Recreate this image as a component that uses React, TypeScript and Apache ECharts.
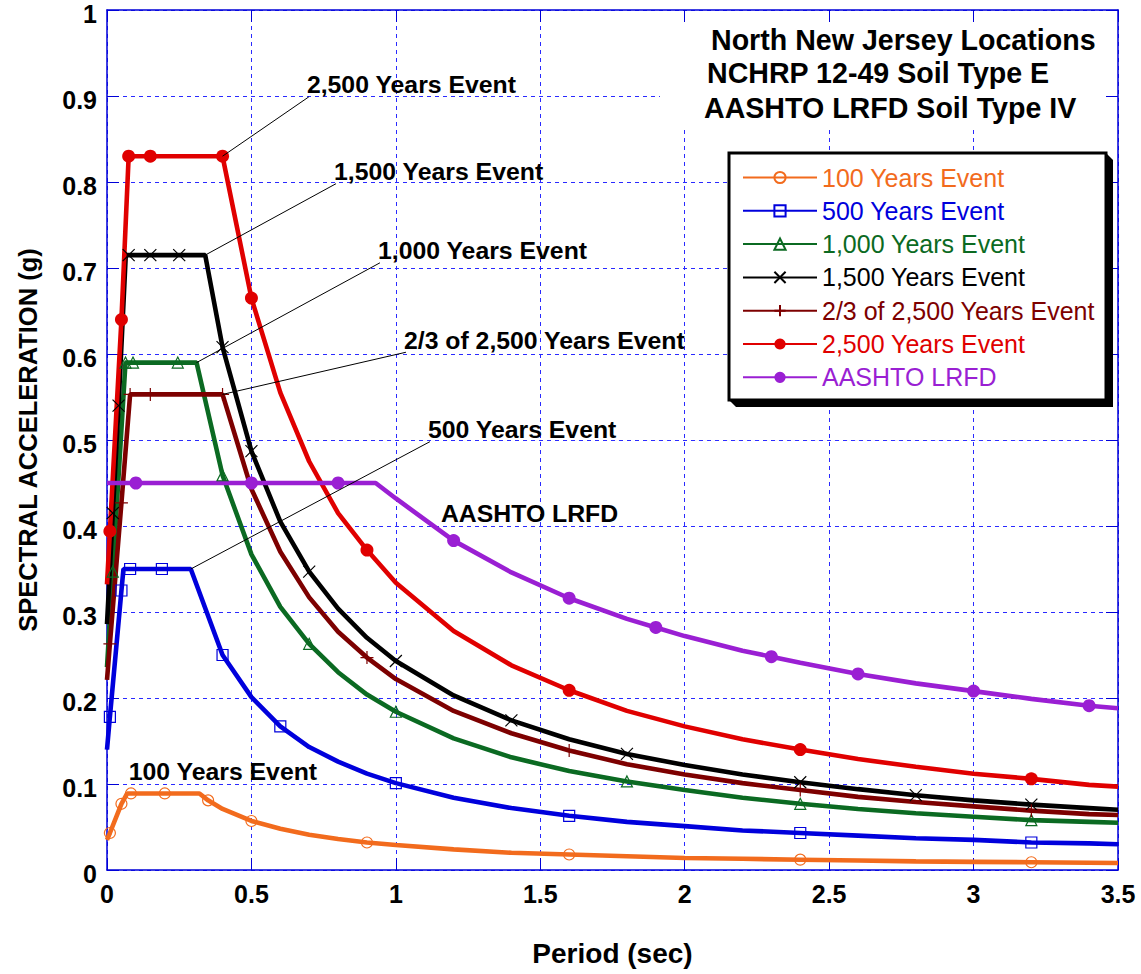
import React, { useEffect, useRef } from "react";
import * as echarts from "echarts";

const FONT = "'Liberation Sans', Arial, Helvetica, sans-serif";

// Periods (sec) and spectral accelerations (g) for each design spectrum
const periods100 = [0, 0.01, 0.05, 0.07, 0.083, 0.2, 0.32, 0.35, 0.4, 0.5, 0.6, 0.7, 0.8, 0.9, 1.0, 1.2, 1.4, 1.6, 1.8, 2.0, 2.2, 2.4, 2.6, 2.8, 3.0, 3.2, 3.4, 3.5];
const accel100 = [0.035, 0.043, 0.077, 0.089, 0.089, 0.089, 0.089, 0.081, 0.071, 0.057, 0.048, 0.041, 0.036, 0.032, 0.029, 0.024, 0.02, 0.018, 0.016, 0.014, 0.013, 0.012, 0.011, 0.01, 0.0095, 0.009, 0.0084, 0.0081];
const markers100 = [0.01, 0.05, 0.083, 0.2, 0.35, 0.5, 0.9, 1.6, 2.4, 3.2];

const periods500 = [0, 0.01, 0.05, 0.057, 0.08, 0.19, 0.29, 0.4, 0.5, 0.6, 0.7, 0.8, 0.9, 1.0, 1.2, 1.4, 1.6, 1.8, 2.0, 2.2, 2.4, 2.6, 2.8, 3.0, 3.2, 3.4, 3.5];
const accel500 = [0.14, 0.178, 0.325, 0.35, 0.35, 0.35, 0.35, 0.25, 0.201, 0.167, 0.143, 0.126, 0.112, 0.101, 0.084, 0.072, 0.063, 0.056, 0.051, 0.046, 0.043, 0.04, 0.037, 0.035, 0.032, 0.031, 0.03];
const markers500 = [0.01, 0.05, 0.08, 0.19, 0.4, 0.6, 1.0, 1.6, 2.4, 3.2];

const periods1000 = [0, 0.02, 0.064, 0.09, 0.245, 0.31, 0.4, 0.5, 0.6, 0.7, 0.8, 0.9, 1.0, 1.2, 1.4, 1.6, 1.8, 2.0, 2.2, 2.4, 2.6, 2.8, 3.0, 3.2, 3.4, 3.5];
const accel1000 = [0.236, 0.347, 0.59, 0.59, 0.59, 0.59, 0.459, 0.367, 0.306, 0.263, 0.23, 0.204, 0.184, 0.153, 0.131, 0.115, 0.103, 0.093, 0.084, 0.077, 0.071, 0.066, 0.062, 0.058, 0.056, 0.055];
const markers1000 = [0.02, 0.064, 0.09, 0.245, 0.4, 0.7, 1.0, 1.8, 2.4, 3.2];

const periods1500 = [0, 0.02, 0.04, 0.065, 0.075, 0.15, 0.25, 0.34, 0.4, 0.5, 0.6, 0.7, 0.8, 0.9, 1.0, 1.2, 1.4, 1.6, 1.8, 2.0, 2.2, 2.4, 2.6, 2.8, 3.0, 3.2, 3.4, 3.5];
const accel1500 = [0.286, 0.415, 0.54, 0.715, 0.715, 0.715, 0.715, 0.715, 0.608, 0.487, 0.405, 0.347, 0.304, 0.27, 0.243, 0.203, 0.174, 0.152, 0.135, 0.122, 0.111, 0.102, 0.094, 0.087, 0.081, 0.076, 0.072, 0.07];
const markers1500 = [0.02, 0.04, 0.075, 0.15, 0.25, 0.4, 0.5, 0.7, 1.0, 1.4, 1.8, 2.4, 2.8, 3.2];

const periodsTwoThirds = [0, 0.01, 0.05, 0.08, 0.15, 0.4, 0.5, 0.6, 0.7, 0.8, 0.9, 1.0, 1.2, 1.4, 1.6, 1.8, 2.0, 2.2, 2.4, 2.6, 2.8, 3.0, 3.2, 3.4, 3.5];
const accelTwoThirds = [0.221, 0.263, 0.427, 0.553, 0.553, 0.553, 0.443, 0.37, 0.317, 0.277, 0.247, 0.222, 0.185, 0.159, 0.139, 0.123, 0.111, 0.101, 0.093, 0.085, 0.079, 0.074, 0.069, 0.065, 0.064];
const markersTwoThirds = [0.01, 0.05, 0.08, 0.15, 0.4, 0.9, 1.6, 2.4, 3.2];

const periods2500 = [0, 0.01, 0.05, 0.075, 0.15, 0.4, 0.5, 0.6, 0.7, 0.8, 0.9, 1.0, 1.2, 1.4, 1.6, 1.8, 2.0, 2.2, 2.4, 2.6, 2.8, 3.0, 3.2, 3.4, 3.5];
const accel2500 = [0.332, 0.394, 0.64, 0.83, 0.83, 0.83, 0.665, 0.555, 0.475, 0.415, 0.372, 0.334, 0.278, 0.238, 0.209, 0.185, 0.167, 0.152, 0.14, 0.129, 0.12, 0.112, 0.106, 0.099, 0.097];
const markers2500 = [0.01, 0.05, 0.075, 0.15, 0.4, 0.5, 0.9, 1.6, 2.4, 3.2];

const periodsAashto = [0, 0.1, 0.5, 0.8, 0.93, 1.0, 1.2, 1.4, 1.6, 1.8, 1.9, 2.0, 2.2, 2.3, 2.4, 2.6, 2.8, 3.0, 3.2, 3.4, 3.5];
const accelAashto = [0.45, 0.45, 0.45, 0.45, 0.45, 0.432, 0.383, 0.346, 0.316, 0.292, 0.282, 0.272, 0.255, 0.248, 0.241, 0.228, 0.217, 0.208, 0.199, 0.191, 0.188];
const markersAashto = [0.1, 0.5, 0.8, 1.2, 1.6, 1.9, 2.3, 2.6, 3.0, 3.4];

// Titles and callouts
const titleLines = ["North New Jersey Locations", "NCHRP 12-49 Soil Type E", "AASHTO LRFD Soil Type IV"];
const calloutTexts = ["2,500 Years Event", "1,500 Years Event", "1,000 Years Event", "2/3 of 2,500 Years Event", "500 Years Event", "AASHTO LRFD", "100 Years Event"];
// where each leader line leaves its curve (null = no leader)
const calloutAnchors: (number[] | null)[] = [[0.4, 0.83], [0.34, 0.715], [0.31, 0.59], [0.4, 0.553], [0.29, 0.35], null, null];
// left/middle position of each callout text
const calloutSpots = [[0.692, 0.913], [0.786, 0.812], [0.938, 0.72], [1.028, 0.616], [1.111, 0.512], [1.156, 0.415], [0.075, 0.115]];

// Marker shapes
const RING = "path://M10,5A5,5,0,1,1,0,5A5,5,0,1,1,10,5Z";
const BOX = "path://M0,0L10,0L10,10L0,10Z";
const TRIANGLE = "path://M5,0L10,10L0,10Z";
const CROSS = "path://M0,0L10,10M10,0L0,10";
const PLUS = "path://M5,0L5,10M0,5L10,5";

type Curve = {
  name: string;
  periods: number[];
  accel: number[];
  markers: number[];
  color: string;
  symbol: string;
  size: number;
  outline: boolean;
};

const curves: Curve[] = [
  { name: "100 Years Event", periods: periods100, accel: accel100, markers: markers100, color: "#f26b1d", symbol: RING, size: 11, outline: true },
  { name: "500 Years Event", periods: periods500, accel: accel500, markers: markers500, color: "#0000dc", symbol: BOX, size: 11, outline: true },
  { name: "1,000 Years Event", periods: periods1000, accel: accel1000, markers: markers1000, color: "#0b6a22", symbol: TRIANGLE, size: 11, outline: true },
  { name: "1,500 Years Event", periods: periods1500, accel: accel1500, markers: markers1500, color: "#000000", symbol: CROSS, size: 12, outline: true },
  { name: "2/3 of 2,500 Years Event", periods: periodsTwoThirds, accel: accelTwoThirds, markers: markersTwoThirds, color: "#7d0000", symbol: PLUS, size: 13, outline: true },
  { name: "2,500 Years Event", periods: periods2500, accel: accel2500, markers: markers2500, color: "#e00000", symbol: "circle", size: 13, outline: false },
  { name: "AASHTO LRFD", periods: periodsAashto, accel: accelAashto, markers: markersAashto, color: "#9a1fd3", symbol: "circle", size: 13, outline: false },
];

const AXIS_BLUE = "#0000d8";
const GRID_BLUE = "#2a2aff";

function buildSeries() {
  return curves.map((c) => ({
    type: "line",
    name: c.name,
    data: c.periods.map((t, i) =>
      c.markers.includes(t) ? { value: [t, c.accel[i]] } : { value: [t, c.accel[i]], symbol: "none" }
    ),
    symbol: c.symbol,
    symbolSize: c.size,
    showSymbol: true,
    showAllSymbol: true,
    lineStyle: { color: c.color, width: 4.6 },
    itemStyle: c.outline
      ? { color: "rgba(0,0,0,0)", borderColor: c.color, borderWidth: 1.2 }
      : { color: c.color, borderWidth: 0 },
    emphasis: { disabled: true },
    silent: true,
    z: 2,
  }));
}

const boxAxis = (position: string) => ({
  type: "value",
  min: 0,
  position,
  axisLine: { show: true, onZero: false, lineStyle: { color: AXIS_BLUE, width: 1.5 } },
  axisTick: { show: true, inside: true, length: 12, lineStyle: { color: AXIS_BLUE, width: 1 } },
  axisLabel: { show: false },
  splitLine: { show: false },
});

export default function App() {
  const ref = useRef<HTMLDivElement>(null);

  useEffect(() => {
    if (!ref.current) return;
    const chart = echarts.init(ref.current, null, { renderer: "svg" });

    const labelFont = { color: "#000", fontFamily: FONT, fontWeight: "bold" as const, fontSize: 25 };

    chart.setOption({
      animation: false,
      backgroundColor: "#ffffff",
      grid: { left: 107, top: 10, width: 1011, height: 860, outerBoundsMode: "none" },
      xAxis: [
        {
          ...boxAxis("bottom"),
          max: 3.5,
          interval: 0.5,
          axisLabel: { show: true, margin: 11, ...labelFont },
          splitLine: { show: true, lineStyle: { color: GRID_BLUE, type: [4, 4], width: 1 } },
          name: "Period (sec)",
          nameLocation: "middle",
          nameGap: 69,
          nameTextStyle: { color: "#000", fontFamily: FONT, fontWeight: "bold", fontSize: 28 },
        },
        { ...boxAxis("top"), max: 3.5, interval: 0.5 },
      ],
      yAxis: [
        {
          ...boxAxis("left"),
          max: 1,
          interval: 0.1,
          // labels sit a few pixels below their grid line
          axisLabel: { show: true, margin: 10, verticalAlign: "top", lineHeight: 8, ...labelFont },
          splitLine: { show: true, lineStyle: { color: GRID_BLUE, type: [4, 4], width: 1 } },
          name: "SPECTRAL ACCELERATION (g)",
          nameLocation: "middle",
          nameRotate: 90,
          nameGap: 66,
          nameTextStyle: { color: "#000", fontFamily: FONT, fontWeight: "bold", fontSize: 25.5 },
        },
        { ...boxAxis("right"), max: 1, interval: 0.1 },
      ],
      legend: {
        orient: "vertical",
        left: 742,
        top: 165,
        padding: 0,
        itemWidth: 74,
        itemHeight: 14,
        itemGap: 8.3,
        selectedMode: false,
        z: 10,
        textStyle: { fontFamily: FONT, fontSize: 25 },
        data: curves.map((c) => ({ name: c.name, textStyle: { color: c.color } })),
      },
      series: buildSeries(),
    });

    const toPx = (p: number[]) =>
      chart.convertToPixel({ xAxisIndex: 0, yAxisIndex: 0 }, p) as number[];

    const graphics: any[] = [];

    // white panel behind the heading
    graphics.push({
      type: "rect",
      z: 5,
      silent: true,
      shape: { x: 660, y: 23, width: 444, height: 105 },
      style: { fill: "#ffffff" },
    });
    const titleLeft = [711, 707, 704];
    const titleMid = [40, 73, 108];
    titleLines.forEach((t, i) =>
      graphics.push({
        type: "text",
        z: 6,
        silent: true,
        x: titleLeft[i],
        y: titleMid[i],
        style: { text: t, fill: "#000", fontFamily: FONT, fontWeight: "bold", fontSize: 28.6, align: "left", verticalAlign: "middle" },
      })
    );

    // legend frame with its drop shadow
    const bx = 729, by = 153, bw = 377, bh = 247, off = 7;
    graphics.push({
      type: "polygon",
      z: 5,
      silent: true,
      shape: {
        points: [
          [bx + bw, by],
          [bx + bw + off, by + off],
          [bx + bw + off, by + bh + off],
          [bx + off, by + bh + off],
          [bx, by + bh],
        ],
      },
      style: { fill: "#000" },
    });
    graphics.push({
      type: "rect",
      z: 6,
      silent: true,
      shape: { x: bx, y: by, width: bw, height: bh },
      style: { fill: "#fff", stroke: "#000", lineWidth: 3 },
    });

    // callouts with their leader lines
    calloutTexts.forEach((t, i) => {
      const spot = toPx(calloutSpots[i]);
      const anchor = calloutAnchors[i];
      if (anchor) {
        const a = toPx(anchor);
        graphics.push({
          type: "line",
          z: 4,
          silent: true,
          shape: { x1: a[0], y1: a[1], x2: spot[0] + 2, y2: spot[1] + 12 },
          style: { stroke: "#000", lineWidth: 1 },
        });
      }
      graphics.push({
        type: "text",
        z: 4,
        silent: true,
        x: spot[0],
        y: spot[1],
        style: { text: t, fill: "#000", fontFamily: FONT, fontWeight: "bold", fontSize: 24.8, align: "left", verticalAlign: "middle" },
      });
    });

    chart.setOption({ graphic: graphics });

    return () => chart.dispose();
  }, []);

  return (
    <div
      ref={ref}
      style={{ position: "absolute", left: 0, top: 0, width: 1141, height: 974, background: "#fff" }}
    />
  );
}
